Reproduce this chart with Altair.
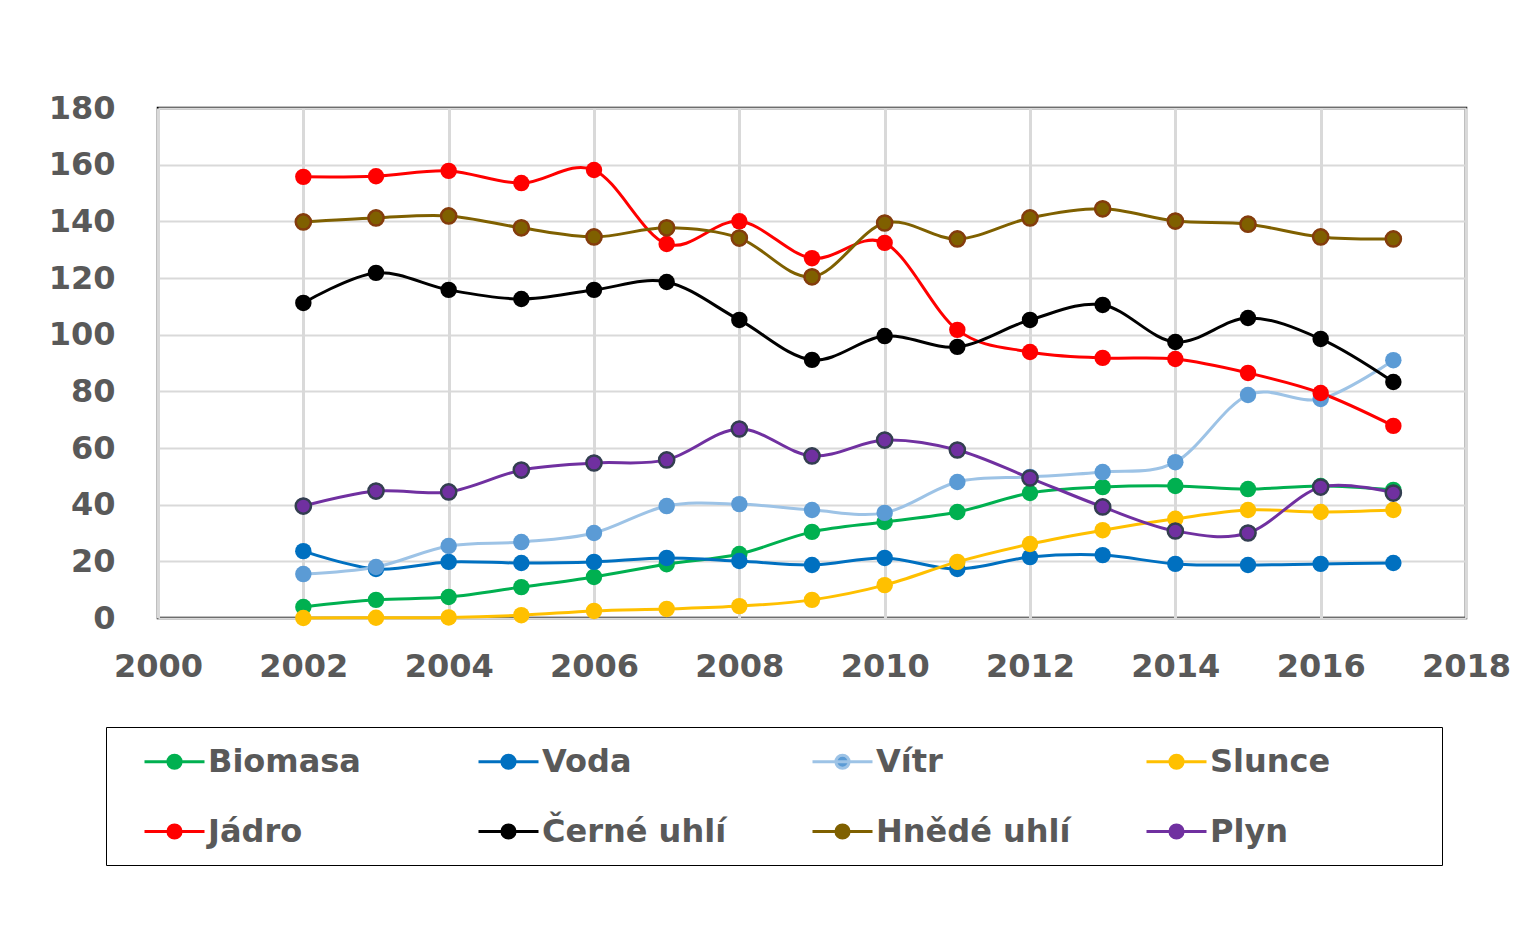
import altair as alt
import pandas as pd

years = list(range(2002, 2018))
series = ["Biomasa", "Voda", "Vítr", "Slunce", "Jádro", "Černé uhlí", "Hnědé uhlí", "Plyn"]

biomasa = [3.9, 6.4, 7.4, 10.9, 14.5, 19.0, 22.6, 30.4, 33.9, 37.4, 44.1, 46.2, 46.6, 45.5, 46.6, 45.2]
voda = [23.6, 17.3, 19.8, 19.4, 19.8, 21.2, 20.1, 18.7, 21.2, 17.3, 21.5, 22.2, 19.1, 18.7, 19.1, 19.4]
vitr = [15.5, 18.0, 25.4, 26.8, 30.0, 39.5, 40.2, 38.1, 37.1, 48.0, 49.8, 51.5, 55.0, 78.7, 77.3, 91.0]
slunce = [0.0, 0.1, 0.2, 1.0, 2.5, 3.2, 4.2, 6.4, 11.6, 19.8, 26.1, 31.0, 35.0, 38.1, 37.4, 38.1]
jadro = [155.7, 155.9, 157.8, 153.5, 158.1, 132.0, 140.0, 127.0, 132.4, 101.7, 93.9, 91.8, 91.4, 86.5, 79.4, 67.8]
cerne = [111.2, 121.8, 115.8, 112.6, 115.8, 118.6, 105.2, 91.1, 99.5, 95.7, 105.2, 110.5, 97.4, 105.9, 98.5, 83.3]
hnede = [139.8, 141.2, 141.9, 137.7, 134.5, 137.7, 134.1, 120.4, 139.4, 133.8, 141.2, 144.4, 140.1, 139.0, 134.5, 133.8]
plyn = [39.5, 44.8, 44.5, 52.2, 54.7, 55.8, 66.7, 57.2, 62.8, 59.3, 49.4, 39.2, 30.7, 30.0, 46.2, 44.1]

values = [biomasa, voda, vitr, slunce, jadro, cerne, hnede, plyn]

line_colors = ["#00B050", "#0070C0", "#9DC3E6", "#FFC000", "#FF0000", "#000000", "#7F6000", "#7030A0"]
fill_colors = ["#00B050", "#0070C0", "#5B9BD5", "#FFC000", "#FF0000", "#000000", "#7F6000", "#7030A0"]
edge_series = ["Hnědé uhlí", "Plyn"]
edge_colors = ["#843C0C", "#333F50"]

x_ticks = list(range(2000, 2019, 2))
y_ticks = list(range(0, 181, 20))

rows = []
for s, vals in zip(series, values):
    for yr, v in zip(years, vals):
        rows.append({"Rok": yr, "Zdroj": s, "Hodnota": v})
df = pd.DataFrame(rows)

FONT = "DejaVu Sans"
# line + dot; trailing move-to points only widen the legend entry (Excel-style equal cells)
sym_path = ("M-1,0H1M-0.22,0a0.22,0.22 0 1,0 0.44,0a0.22,0.22 0 1,0 -0.44,0"
            "M8.54,0M0,0.80")

leg = alt.Legend(
    title=None,
    orient="none", legendX=-52, legendY=619, columns=4, direction="horizontal",
    symbolType=sym_path, symbolSize=3600, symbolStrokeWidth=3, symbolOffset=34,
    labelFont=FONT, labelFontWeight="bold", labelFontSize=32, labelColor="#595959",
    labelOffset=2, labelLimit=0, gridAlign="all", columnPadding=6, rowPadding=8,
    padding=3, strokeColor="#000000", fillColor="#FFFFFF",
)

base = alt.Chart(df).encode(
    x=alt.X("Rok:Q", scale=alt.Scale(domain=[2000, 2018], nice=False, zero=False),
            axis=alt.Axis(values=x_ticks, format="d", title=None, labelPadding=33,
                          labelFlush=False, labelOverlap=False, gridWidth=3)),
    y=alt.Y("Hodnota:Q", scale=alt.Scale(domain=[0, 180], nice=False),
            axis=alt.Axis(values=y_ticks, title=None, labelPadding=43, gridWidth=2)),
)

lines = base.mark_line(interpolate="cardinal", strokeWidth=3).encode(
    stroke=alt.Stroke("Zdroj:N", scale=alt.Scale(domain=series, range=line_colors), legend=leg)
)
points = base.mark_circle(size=270, opacity=1).encode(
    fill=alt.Fill("Zdroj:N", scale=alt.Scale(domain=series, range=fill_colors), legend=leg)
)
edges = base.transform_filter(
    alt.FieldOneOfPredicate(field="Zdroj", oneOf=edge_series)
).mark_point(size=230, filled=False, strokeWidth=2.5, opacity=1).encode(
    color=alt.Color("Zdroj:N", scale=alt.Scale(domain=edge_series, range=edge_colors), legend=None)
)

chart = alt.layer(lines, points, edges).properties(
    width=1308, height=510,
    padding={"left": 150, "top": 100, "right": 52, "bottom": 311},
    autosize="none",
).configure_view(
    stroke="#000000", strokeWidth=2.5
).configure_axis(
    gridColor="#D9D9D9", labelFont=FONT, labelFontWeight="bold", labelFontSize=32,
    labelColor="#595959", ticks=False, domain=False
)

chart.save("out.html", embed_options={"renderer": "svg", "actions": False})
